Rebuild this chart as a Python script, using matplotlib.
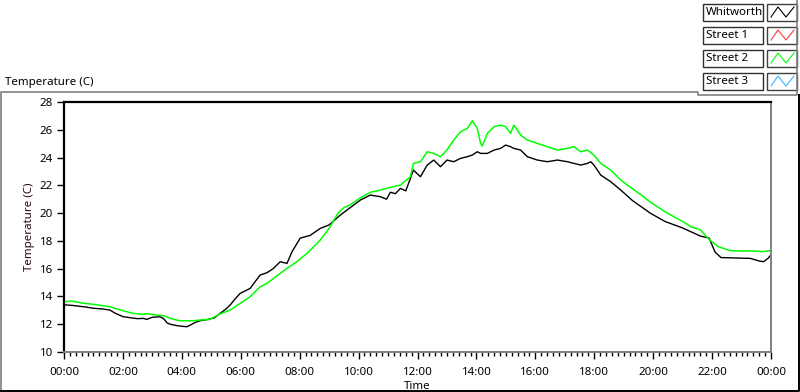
import matplotlib
matplotlib.use("Agg")
import matplotlib.pyplot as plt
from matplotlib.lines import Line2D
from matplotlib.patches import Rectangle
import numpy as np

plt.rcParams['font.family'] = ['Noto Sans', 'DejaVu Sans']

# --- datos (hora del dia, temperatura en C) ---
whitworth_hours = [0.00, 0.30, 0.70, 1.00, 1.30, 1.56, 1.73, 2.00, 2.24, 2.50, 2.69, 2.81, 3.00,
                   3.26, 3.38, 3.50, 3.60, 3.83, 4.00, 4.17, 4.30, 4.39, 4.51, 4.62, 4.90, 5.10,
                   5.30, 5.50, 5.64, 5.80, 5.98, 6.15, 6.32, 6.50, 6.66, 6.89, 7.10, 7.34, 7.57,
                   7.74, 8.02, 8.36, 8.70, 9.00, 9.38, 9.72, 10.06, 10.40, 10.74, 10.95, 11.08,
                   11.25, 11.42, 11.60, 11.76, 11.86, 12.10, 12.33, 12.55, 12.78, 13.00, 13.23,
                   13.46, 13.69, 13.86, 14.03, 14.14, 14.37, 14.60, 14.82, 14.99, 15.16, 15.27,
                   15.50, 15.73, 16.07, 16.41, 16.75, 17.09, 17.31, 17.54, 17.77, 17.88, 17.99,
                   18.22, 18.56, 18.90, 19.30, 19.90, 20.40, 21.00, 21.60, 21.90, 22.10, 22.30,
                   22.80, 23.30, 23.60, 23.75, 23.90, 24.00]
whitworth_temp = [13.40, 13.35, 13.25, 13.15, 13.10, 13.02, 12.80, 12.55, 12.47, 12.40, 12.42, 12.35, 12.50,
                  12.54, 12.40, 12.10, 12.00, 11.90, 11.85, 11.82, 11.95, 12.06, 12.18, 12.25, 12.35, 12.45,
                  12.78, 13.10, 13.38, 13.80, 14.22, 14.40, 14.58, 15.10, 15.54, 15.71, 16.00, 16.50, 16.38,
                  17.22, 18.20, 18.40, 18.90, 19.15, 19.86, 20.40, 20.94, 21.30, 21.18, 21.00, 21.50,
                  21.40, 21.78, 21.60, 22.50, 23.10, 22.62, 23.46, 23.82, 23.34, 23.82, 23.70,
                  23.94, 24.06, 24.18, 24.42, 24.30, 24.30, 24.54, 24.66, 24.90, 24.78, 24.66,
                  24.54, 24.06, 23.82, 23.70, 23.82, 23.70, 23.58, 23.46, 23.58, 23.70, 23.46,
                  22.74, 22.26, 21.66, 20.90, 20.00, 19.40, 18.93, 18.35, 18.20, 17.20, 16.80,
                  16.77, 16.74, 16.55, 16.50, 16.75, 17.00]

street2_hours = [0.00, 0.25, 0.70, 1.00, 1.56, 1.80, 2.13, 2.35, 2.69, 2.81, 3.16, 3.43, 3.60,
                 3.83, 3.94, 4.17, 4.39, 4.62, 4.95, 5.30, 5.64, 5.98, 6.32, 6.66, 6.89, 7.34,
                 7.57, 7.90, 8.25, 8.36, 8.70, 9.00, 9.30, 9.50, 9.72, 10.06, 10.40, 10.74,
                 11.08, 11.42, 11.76, 11.86, 12.10, 12.33, 12.55, 12.78, 13.00, 13.23, 13.46,
                 13.69, 13.86, 14.03, 14.14, 14.20, 14.37, 14.60, 14.82, 14.99, 15.16, 15.27,
                 15.50, 15.73, 16.07, 16.41, 16.75, 17.09, 17.31, 17.54, 17.77, 17.99, 18.22,
                 18.56, 18.90, 19.20, 19.60, 19.90, 20.40, 21.00, 21.30, 21.60, 21.90, 22.20,
                 22.60, 23.00, 23.50, 23.70, 24.00]
street2_temp = [13.62, 13.67, 13.50, 13.43, 13.26, 13.10, 12.90, 12.78, 12.71, 12.76, 12.66, 12.59, 12.42,
                12.30, 12.25, 12.25, 12.25, 12.30, 12.35, 12.74, 13.02, 13.50, 13.98, 14.70, 14.94, 15.66,
                16.02, 16.50, 17.10, 17.34, 18.06, 18.90, 20.00, 20.40, 20.60, 21.10, 21.50, 21.66,
                21.86, 22.02, 22.62, 23.58, 23.70, 24.42, 24.30, 24.06, 24.54, 25.26, 25.86,
                26.10, 26.65, 26.10, 25.02, 24.83, 25.74, 26.22, 26.34, 26.22, 25.74, 26.34,
                25.62, 25.26, 25.02, 24.78, 24.54, 24.66, 24.78, 24.42, 24.54, 24.18, 23.58,
                23.10, 22.38, 21.90, 21.30, 20.80, 20.10, 19.40, 19.00, 18.80, 18.10, 17.60,
                17.30, 17.27, 17.27, 17.22, 17.30]

legend_names = ["Whitworth", "Street 1", "Street 2", "Street 3"]
legend_colors = ["black", "#ff3b3b", "#00ff00", "#3cb4ff"]

x_ticks = [0, 2, 4, 6, 8, 10, 12, 14, 16, 18, 20, 22, 24]
x_tick_labels = ["00:00", "02:00", "04:00", "06:00", "08:00", "10:00", "12:00",
                 "14:00", "16:00", "18:00", "20:00", "22:00", "00:00"]
y_ticks = [10, 12, 14, 16, 18, 20, 22, 24, 26, 28]

W, H = 800, 392
def fx(x):
    return x / W
def fy(y):
    return 1 - y / H

fig = plt.figure(figsize=(8, 3.92), dpi=100)
ax = fig.add_axes([fx(64), fy(352), fx(771) - fx(64), fy(102) - fy(352)])

ax.plot(whitworth_hours, whitworth_temp, color=legend_colors[0], lw=1.0)
ax.plot(street2_hours, street2_temp, color=legend_colors[2], lw=1.1)

ax.set_xlim(0, 24)
ax.set_ylim(10, 28)
ax.set_xticks(x_ticks)
ax.set_xticklabels(x_tick_labels)
ax.set_xticks(np.arange(0, 24.01, 0.2), minor=True)
ax.set_yticks(y_ticks)
ax.tick_params(axis='both', which='major', direction='out', length=5, width=1,
               labelsize=8.3, colors='black', pad=3)
ax.tick_params(axis='x', which='minor', direction='out', length=3, width=1)
ax.tick_params(axis='x', which='major', pad=6)

for side in ['top', 'left']:
    ax.spines[side].set_color('black')
    ax.spines[side].set_linewidth(1.6)
for side in ['right', 'bottom']:
    ax.spines[side].set_color('#808080')
    ax.spines[side].set_linewidth(1.4)

ax.set_xlabel('Time', fontsize=8.3, labelpad=2)
ax.set_ylabel('Temperature (C)', fontsize=8.3, color='#2a0a0a', labelpad=3)

# --- titulo del panel ---
fig.text(fx(5), fy(82), 'Temperature (C)', fontsize=8.3, va='center', ha='left')

# --- marco del panel (efecto 3D) ---
frame_gray = '#808080'
fig.add_artist(Line2D([fx(1), fx(1), fx(698), fx(698), fx(797), fx(797)],
                      [fy(391), fy(92), fy(92), fy(95), fy(95), fy(0)],
                      transform=fig.transFigure, color=frame_gray, lw=1.2))
fig.add_artist(Line2D([fx(1), fx(798.5), fx(798.5)], [fy(390.5), fy(390.5), fy(95)],
                      transform=fig.transFigure, color='black', lw=1.4))

# --- leyenda estilo LabVIEW ---
for i, (name, color) in enumerate(zip(legend_names, legend_colors)):
    top = 4 + 23 * i
    bottom = top + 17
    fig.add_artist(Rectangle((fx(703), fy(bottom)), fx(763) - fx(703), fy(top) - fy(bottom),
                             transform=fig.transFigure, fill=False, edgecolor='#303030', lw=1.0))
    fig.text(fx(706), fy((top + bottom) / 2), name, fontsize=8.3, va='center', ha='left')
    fig.add_artist(Rectangle((fx(767), fy(bottom)), fx(797) - fx(767), fy(top) - fy(bottom),
                             transform=fig.transFigure, fill=False, edgecolor='#404040', lw=1.0))
    gx = [771, 778, 786, 794]
    gy = [bottom - 4, top + 3, bottom - 4, top + 3]
    fig.add_artist(Line2D([fx(v) for v in gx], [fy(v) for v in gy],
                          transform=fig.transFigure, color=color, lw=0.8))

fig.savefig('out.png', dpi=100)
